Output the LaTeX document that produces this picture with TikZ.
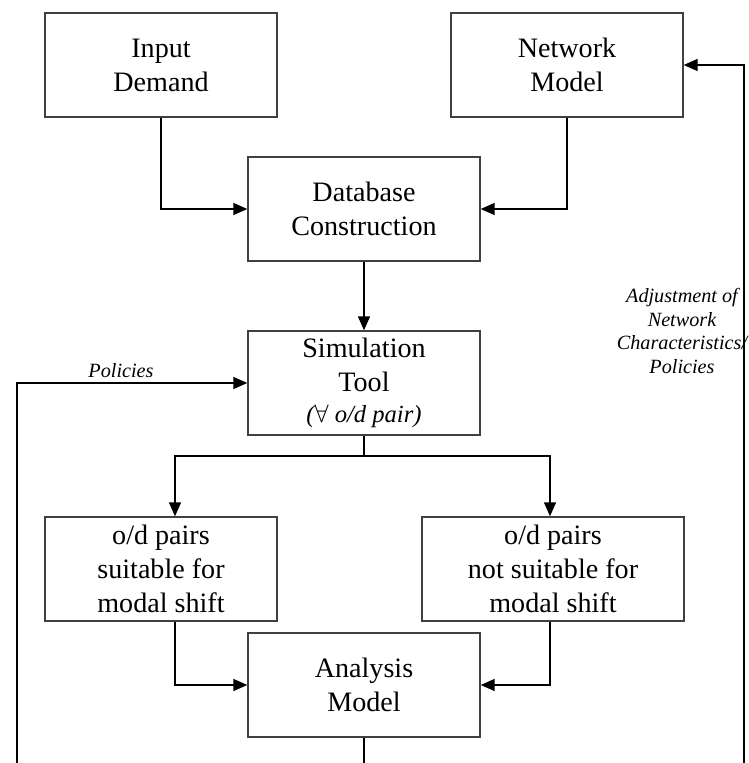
\documentclass[tikz,border=0pt]{standalone}
\usepackage{fontspec}
\setmainfont{Liberation Serif}
\usetikzlibrary{positioning, arrows.meta, calc}

\begin{document}
\begin{tikzpicture}[
  x=0.02cm, y=-0.02cm,
  font=\fontsize{16}{19.3}\selectfont,
  stage/.style={draw=black!75, line width=0.8pt, minimum width=4.64cm,
                minimum height=2.08cm, align=center, inner sep=2pt},
  flow/.style={-{Triangle[length=2.8mm, width=2.4mm]}, line width=0.9pt},
  link/.style={line width=0.9pt},
  nlabel/.style={font=\fontsize{11.5}{13.6}\itshape, align=center},
]
\useasboundingbox (0,0) rectangle (749,763);

% inputs
\node[stage] (demand)  at (161, 65)  {Input\\Demand};
\node[stage] (network) at (567, 65)  {Network\\Model};
\node[stage] (db)      at (364, 209) {Database\\Construction};
\node[stage] (sim)     at (364, 383) {Simulation\\Tool\\[-2pt]
  {\fontsize{14}{16}\itshape($\forall$ o/d pair)}};

% split of o/d pairs
\node[stage] (suit)    at (161, 569) {o/d pairs\\suitable for\\modal shift};
\node[stage, minimum width=5.24cm] (nosuit) at (553, 569)
  {o/d pairs\\not suitable for\\modal shift};
\node[stage] (analysis) at (364, 685) {Analysis\\Model};

% free ends at the lower edge
\coordinate (fbl) at (17, 763);
\coordinate (fbr) at (744, 763);
\coordinate (out) at (364, 763);
\coordinate (split) at (364, 456);

\draw[flow] (demand.south) |- (db.west);
\draw[flow] (network.south) |- (db.east);
\draw[flow] (db.south) -- (sim.north);
\draw[link] (sim.south) -- (split);
\draw[flow] (split) -| ($(suit.north)+(14,0)$);
\draw[flow] (split) -| ($(nosuit.north)+(-3,0)$);
\draw[flow] ($(suit.south)+(14,0)$) |- (analysis.west);
\draw[flow] ($(nosuit.south)+(-3,0)$) |- (analysis.east);
\draw[link] (analysis.south) -- (out);

% feedback loops
\draw[flow] (fbl) |- (sim.west);
\node[nlabel] (pol) at (121, 371) {Policies};
\draw[flow] (fbr) |- (network.east);
\node[nlabel] (adj) at (682, 331)
  {Adjustment of\\Network\\Characteristics/\\Policies};

\end{tikzpicture}
\end{document}
